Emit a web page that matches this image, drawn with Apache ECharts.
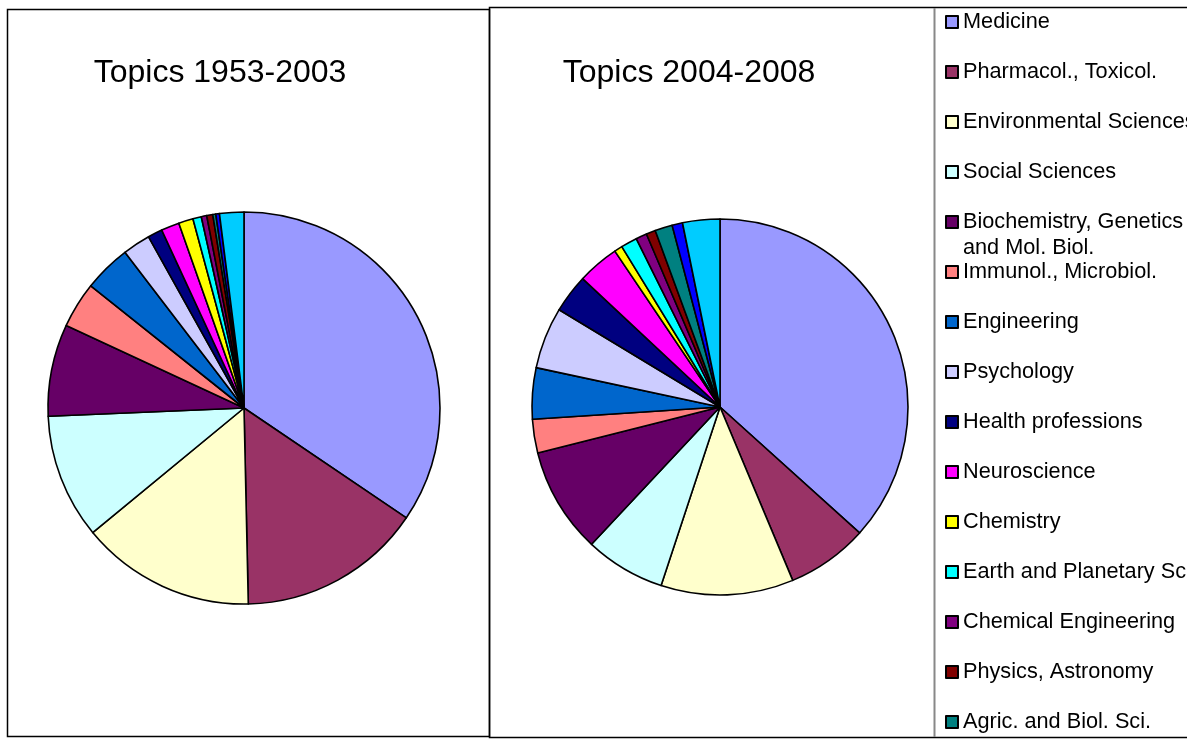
<!DOCTYPE html>
<html>
<head>
<meta charset="utf-8">
<style>
  html, body { margin: 0; padding: 0; background: #fff; }
  #chart { width: 1187px; height: 740px; }
</style>
<script src="https://cdn.jsdelivr.net/npm/echarts@6/dist/echarts.min.js"></script>
</head>
<body>
<div id="chart"></div>
<script>
// subject areas, in legend order
const topics = [
  'Medicine', 'Pharmacol., Toxicol.', 'Environmental Sciences', 'Social Sciences',
  'Biochemistry, Genetics\nand Mol. Biol.', 'Immunol., Microbiol.', 'Engineering',
  'Psychology', 'Health professions', 'Neuroscience', 'Chemistry',
  'Earth and Planetary Sci.', 'Chemical Engineering', 'Physics, Astronomy',
  'Agric. and Biol. Sci.', 'Computer Science', 'Other'
]
const topicColors = [
  '#9999FF', '#993366', '#FFFFCC', '#CCFFFF', '#660066', '#FF8080', '#0066CC',
  '#CCCCFF', '#000080', '#FF00FF', '#FFFF00', '#00FFFF', '#800080', '#800000',
  '#008080', '#0000FF', '#00CCFF'
]
// shares in percent
const share1953 = [34.5, 15.2, 14.4, 10.3, 7.6, 3.8, 3.9, 2.3, 1.2, 1.5, 1.2, 0.7, 0.45, 0.5, 0.25, 0.3, 2.0]
const share2004 = [36.7, 7.0, 11.4, 6.9, 9.1, 2.9, 4.4, 5.3, 3.3, 3.6, 0.7, 1.4, 0.95, 0.8, 1.5, 0.9, 3.2]

const font = "'Liberation Sans', Arial, sans-serif"

function pieData(values) {
  return values.map((v, i) => ({
    name: topics[i],
    value: v,
    itemStyle: { color: topicColors[i] }
  }))
}

function pieSeries(name, values, center, radius) {
  return {
    name: name,
    type: 'pie',
    center: center,
    radius: radius,
    startAngle: 90,
    clockwise: true,
    avoidLabelOverlap: false,
    label: { show: false },
    labelLine: { show: false },
    emphasis: { disabled: true },
    itemStyle: { borderColor: '#000', borderWidth: 1.6 },
    data: pieData(values)
  }
}

function titleAt(text, x) {
  return {
    text: text,
    left: x,
    top: 57,
    textAlign: 'center',
    padding: 0,
    textStyle: { color: '#000', fontSize: 32, fontWeight: 'normal', fontFamily: font }
  }
}

const legendBase = {
  orient: 'vertical',
  left: 945,
  padding: 0,
  icon: 'rect',
  itemWidth: 12,
  itemHeight: 12,
  itemGap: 24,
  selectedMode: false,
  textStyle: { color: '#000', fontSize: 21.7, fontFamily: font, lineHeight: 26 }
}

const chart = echarts.init(document.getElementById('chart'))
chart.setOption({
  animation: false,
  backgroundColor: '#fff',
  title: [
    titleAt('Topics 1953-2003', 220),
    titleAt('Topics 2004-2008', 689)
  ],
  legend: [
    Object.assign({}, legendBase, { top: 9, data: topics.slice(0, 4) }),
    // the two-line entry sits on its own: an empty first line keeps
    // its first text line level with the icon
    Object.assign({}, legendBase, {
      top: 183,
      data: [topics[4]],
      formatter: (name) => ' \n' + name
    }),
    Object.assign({}, legendBase, { top: 259, data: topics.slice(5) })
  ],
  graphic: [
    {
      type: 'rect',
      shape: { x: 7.5, y: 9.5, width: 482, height: 727 },
      style: { fill: 'none', stroke: '#000', lineWidth: 1.5 },
      z: 10
    },
    {
      type: 'rect',
      shape: { x: 489.5, y: 7.5, width: 720, height: 730 },
      style: { fill: 'none', stroke: '#000', lineWidth: 1.5 },
      z: 10
    },
    {
      type: 'line',
      shape: { x1: 934.5, y1: 8, x2: 934.5, y2: 737 },
      style: { stroke: '#888', lineWidth: 2 },
      z: 10
    }
  ],
  series: [
    pieSeries('1953-2003', share1953, [244, 408], 196),
    pieSeries('2004-2008', share2004, [720, 407], 188)
  ]
})
</script>
</body>
</html>
